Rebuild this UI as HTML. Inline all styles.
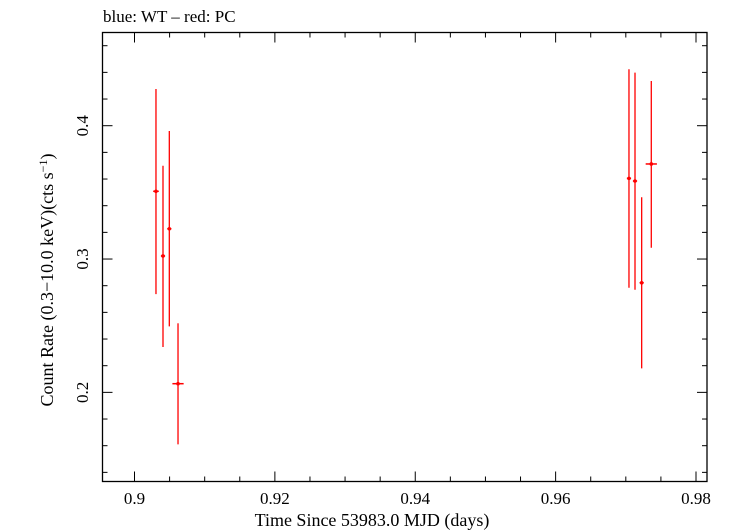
<!DOCTYPE html>
<html><head><meta charset="utf-8"><style>
html,body{margin:0;padding:0;background:#fff;}
svg{display:block;font-family:"Liberation Serif",serif;}
</style></head><body>
<svg id="chart" width="729" height="532" viewBox="0 0 729 532" xmlns="http://www.w3.org/2000/svg">
<text x="103" y="22" font-size="17">blue: WT – red: PC</text>
<rect x="102.5" y="32.5" width="604.5" height="449" fill="none" stroke="#000" stroke-width="1.3"/>
<g id="ticks"></g>
<g id="marks"></g>
<text x="372" y="526" font-size="18" text-anchor="middle">Time Since 53983.0 MJD (days)</text>
<text transform="translate(53,280) rotate(-90)" font-size="18" text-anchor="middle">Count Rate (0.3−10.0 keV)(cts s<tspan font-size="12" dy="-6">−1</tspan><tspan dy="6">)</tspan></text>
</svg>
<script>
const times=[0.90306,0.90406,0.90496,0.9062,0.97045,0.97131,0.97226,0.97363];
const timeErr=[0.0004,0.0003,0.0003,0.0008,0.0003,0.0003,0.0003,0.0008];
const rates=[0.3508,0.3023,0.3227,0.2065,0.3605,0.3585,0.2822,0.3713];
const rateHi=[0.4275,0.370,0.396,0.2518,0.4423,0.4398,0.3463,0.4335];
const rateLo=[0.2737,0.234,0.2495,0.161,0.2785,0.277,0.218,0.3085];
const xTicks=[0.9,0.92,0.94,0.96,0.98];
const xTickLabels=["0.9","0.92","0.94","0.96","0.98"];
const yTicks=[0.2,0.3,0.4];
const yTickLabels=["0.2","0.3","0.4"];

const NS="http://www.w3.org/2000/svg";
const X0=102.5,X1=707,Y0=32.5,Y1=481.5;
function xs(v){return 134.5+(v-0.9)*7018.75;}
function ys(v){return 125.7-(v-0.4)*1333.3;}
function mk(tag,attrs,parent){const e=document.createElementNS(NS,tag);for(const k in attrs)e.setAttribute(k,attrs[k]);parent.appendChild(e);return e;}
const tg=document.getElementById('ticks'),mg=document.getElementById('marks');
for(let v=0.895;v<=0.9815;v+=0.005){
  const major=Math.abs(Math.round(v*50)-v*50)<1e-6;
  const x=xs(v); if(x<X0||x>X1)continue;
  const L=major?10:5;
  const t1=mk('line',{x1:x,x2:x,y1:Y1,y2:Y1-L,stroke:'#000','stroke-width':1},tg);
  
  
  const t2=mk('line',{x1:x,x2:x,y1:Y0,y2:Y0+L,stroke:'#000','stroke-width':1},tg);
  
  
}
xTicks.forEach((v,i)=>{
  const t=mk('text',{x:xs(v),y:504,'font-size':17,'text-anchor':'middle'},tg);
  t.textContent=xTickLabels[i];
  
  
});
for(let k=7;k<=23;k++){
  const v=k*0.02; const y=ys(v); if(y<Y0||y>Y1)continue;
  const major=(k%5===0); const L=major?10:5;
  const a=mk('line',{x1:X0,x2:X0+L,y1:y,y2:y,stroke:'#000','stroke-width':1},tg);
  
  
  const b=mk('line',{x1:X1,x2:X1-L,y1:y,y2:y,stroke:'#000','stroke-width':1},tg);
  
  
}
yTicks.forEach((v,i)=>{
  const t=mk('text',{transform:`translate(88,${ys(v)}) rotate(-90)`,'font-size':17,'text-anchor':'middle'},tg);
  t.textContent=yTickLabels[i];
  
  
});
times.forEach((t,i)=>{
  const g=mk('g',{},mg);
  
  
  mk('line',{x1:xs(t),x2:xs(t),y1:ys(rateHi[i]),y2:ys(rateLo[i]),stroke:'#f00','stroke-width':1.3},g);
  mk('line',{x1:xs(t-timeErr[i]),x2:xs(t+timeErr[i]),y1:ys(rates[i]),y2:ys(rates[i]),stroke:'#f00','stroke-width':1.5},g);
  mk('circle',{cx:xs(t),cy:ys(rates[i]),r:1.8,fill:'#f00'},g);
});
</script>
</body></html>
